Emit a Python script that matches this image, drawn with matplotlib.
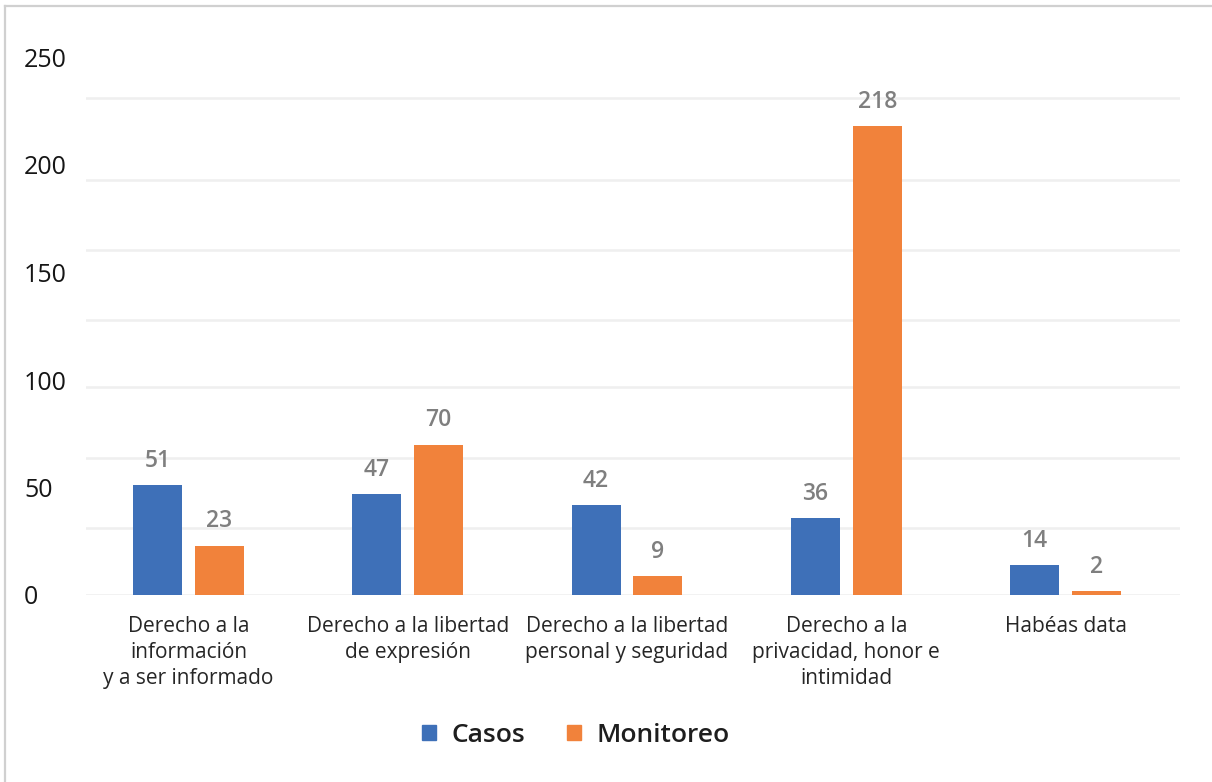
import matplotlib
matplotlib.use("Agg")
import matplotlib.pyplot as plt
from matplotlib.patches import Patch
from matplotlib.lines import Line2D
import numpy as np

plt.rcParams['font.family'] = ['Open Sans', 'DejaVu Sans']

categories = [
    "Derecho a la\ninformación\ny a ser informado",
    "Derecho a la libertad\nde expresión",
    "Derecho a la libertad\npersonal y seguridad",
    "Derecho a la\nprivacidad, honor e\nintimidad",
    "Habéas data",
]
casos = [51, 47, 42, 36, 14]
monitoreo = [23, 70, 9, 218, 2]
series_names = ["Casos", "Monitoreo"]
y_ticks = [0, 50, 100, 150, 200, 250]
grid_levels = [0, 31.2, 63.7, 96.7, 128, 160.5, 193, 231]

blue = "#3E70B8"
orange = "#F1823B"
W, H = 1212, 782
fig = plt.figure(figsize=(W / 100, H / 100), dpi=100)

# axes box in pixel units
left_px, right_px, base_px, top_px = 86, 1180, 595, 57.5
ax = fig.add_axes([left_px / W, (H - base_px) / H,
                   (right_px - left_px) / W, (base_px - top_px) / H])

x = np.arange(len(categories))
bw = 0.2235
off = 0.141
b1 = ax.bar(x - off, casos, bw, color=blue, zorder=3)
b2 = ax.bar(x + off, monitoreo, bw, color=orange, zorder=3)

for bars, vals in ((b1, casos), (b2, monitoreo)):
    for r, v in zip(bars, vals):
        ax.annotate(str(v), (r.get_x() + r.get_width() / 2, v),
                    xytext=(0, 13), textcoords="offset points",
                    ha="center", va="baseline", fontsize=16.5,
                    color="#7F7F7F", fontweight="semibold")

for g in grid_levels:
    ax.axhline(g, color="#EFEFEF", lw=1.8, zorder=1)

ax.set_xlim(-0.4675, 4.522)
ax.set_ylim(0, 250)
ax.set_yticks(y_ticks)
ax.set_yticklabels([str(t) for t in y_ticks], fontsize=18, color="#161616")
for lbl in ax.get_yticklabels():
    lbl.set_horizontalalignment("left")
ax.tick_params(axis="y", length=0, pad=(left_px - 24) * 0.72)
ax.set_xticks(x)
ax.set_xticklabels(categories, fontsize=15, color="#262626", linespacing=1.32)
ax.tick_params(axis="x", length=0, pad=15)
for s in ax.spines.values():
    s.set_visible(False)

# outer frame on the left and top edges
fig.add_artist(Line2D([5 / W, 5 / W], [0, 1 - 6 / H], transform=fig.transFigure,
                      color="#D0D0D0", lw=1.6))
fig.add_artist(Line2D([5 / W, 1], [1 - 6 / H, 1 - 6 / H], transform=fig.transFigure,
                      color="#D0D0D0", lw=1.6))

handles = [Patch(color=blue), Patch(color=orange)]
leg = fig.legend(handles, series_names, loc="center", ncol=2,
                 bbox_to_anchor=(576 / W, 1 - 735 / H), frameon=False,
                 prop={"size": 19, "weight": "semibold"},
                 handlelength=0.5, handleheight=0.5, handletextpad=0.6,
                 columnspacing=1.6)
for t in leg.get_texts():
    t.set_color("#1E1E1E")

fig.savefig("out.png", dpi=100)
